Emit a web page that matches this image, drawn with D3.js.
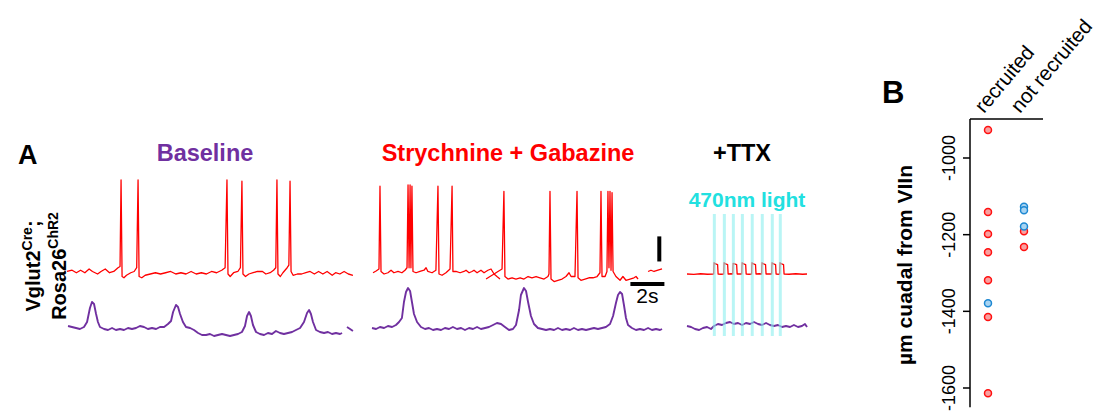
<!DOCTYPE html>
<html>
<head>
<meta charset="utf-8">
<script src="https://cdn.jsdelivr.net/npm/d3@7"></script>
<style>
  body { margin: 0; background: #fff; }
  svg { display: block; font-family: "Liberation Sans", Arial, sans-serif; }
</style>
</head>
<body>
<svg id="chart" width="1099" height="417"></svg>
<script>
// ---------- data (time in s, Vm in mV, GCaMP in a.u.) ----------
const conditions = ["Baseline", "Strychnine + Gabazine", "+TTX"];

const baselineVm = [[0,-58],[0.3,-57],[0.55,-59],[0.8,-57],[1.05,-59],[1.3,-56],[1.5,-58],[1.8,-60],[2.0,-58],[2.25,-56],[2.5,-59],[2.75,-58],[3.0,-55],[3.12,-54],[3.18,15],[3.24,-62],[3.35,-63],[3.5,-61],[3.75,-59],[3.95,-58],[4.1,-55],[4.18,15],[4.24,-62],[4.4,-63],[4.6,-61],[4.9,-60],[5.2,-59],[5.5,-60],[5.8,-59],[6.1,-58],[6.4,-60],[6.7,-59],[7.0,-60],[7.3,-58],[7.6,-60],[7.9,-59],[8.2,-60],[8.5,-58],[8.8,-59],[9.1,-57],[9.3,-55],[9.41,15],[9.47,-60],[9.6,-62],[9.8,-59],[10.05,-58],[10.2,-55],[10.29,14],[10.35,-60],[10.5,-62],[10.7,-60],[10.95,-59],[11.2,-58],[11.5,-58],[11.7,-60],[11.95,-59],[12.15,-57],[12.28,-55],[12.35,15],[12.41,-60],[12.55,-62],[12.7,-59],[12.95,-55],[13.05,-53],[13.12,14],[13.18,-58],[13.3,-61],[13.55,-60],[13.8,-60],[14.05,-59],[14.3,-58],[14.55,-60],[14.8,-58],[15.05,-60],[15.3,-58],[15.6,-61],[15.8,-59],[16.05,-60],[16.3,-58],[16.55,-60],[16.82,-61]];

const baselineCa = [[0.06,4],[0.29,3],[0.53,2],[0.76,1],[1.0,3],[1.18,8],[1.35,22],[1.47,28],[1.59,26],[1.71,16],[1.82,8],[1.94,3],[2.18,1],[2.41,0],[2.65,2],[2.88,0],[3.12,1],[3.35,0],[3.59,2],[3.82,1],[4.06,2],[4.29,4],[4.53,3],[4.76,1],[5.0,2],[5.24,1],[5.47,3],[5.71,3],[5.94,6],[6.12,9],[6.24,18],[6.41,25],[6.53,23],[6.65,16],[6.82,8],[7.0,3],[7.24,2],[7.47,0],[7.71,-3],[7.94,-5],[8.18,-5],[8.41,-4],[8.65,-6],[8.88,-5],[9.12,-4],[9.35,-5],[9.59,-6],[9.82,-5],[10.06,-4],[10.29,-2],[10.47,4],[10.59,14],[10.71,18],[10.82,14],[10.94,5],[11.12,-2],[11.35,-4],[11.59,-5],[11.82,-3],[12.06,-4],[12.29,-1],[12.53,-3],[12.76,-4],[13.0,-3],[13.24,-2],[13.47,0],[13.71,2],[13.94,8],[14.12,17],[14.24,20],[14.35,16],[14.47,8],[14.65,0],[14.88,-2],[15.12,-3],[15.35,-2],[15.59,-4],[15.82,-3],[16.06,-4],[16.18,-3]];
const baselineCaTail = [[16.47,3],[16.65,1],[16.82,-1]];

const strychVmA = [[0.06,-59],[0.24,-57.6],[0.41,-56],[0.47,10],[0.53,-58],[0.71,-60],[0.94,-59],[1.12,-57],[1.29,-59],[1.53,-58],[1.76,-59],[1.94,-57],[2.06,-55],[2.12,11],[2.18,-55],[2.24,11],[2.29,-55],[2.35,10],[2.41,-58],[2.59,-59],[2.82,-58],[3.06,-57],[3.18,-55],[3.29,-58],[3.53,-59],[3.76,-57],[3.88,10],[3.94,-60],[4.12,-61],[4.35,-59],[4.59,-56],[4.71,10],[4.76,-58],[4.94,-58],[5.18,-59],[5.41,-58],[5.53,-57],[5.71,-59],[5.88,-58],[6.0,-57],[6.18,-59],[6.41,-57],[6.59,-59],[6.82,-57],[7.0,-56],[7.18,-60],[7.35,-62],[7.53,-64]];
const strychVmB = [[6.71,-64],[6.94,-62],[7.18,-60],[7.41,-58],[7.65,-56],[7.76,6],[7.82,-62],[8.0,-64],[8.24,-63],[8.47,-64],[8.71,-63],[8.94,-64],[9.18,-62],[9.41,-63],[9.65,-62],[9.88,-63],[10.12,-64],[10.35,-62],[10.41,-60],[10.47,6],[10.53,-64],[10.71,-66],[10.94,-65],[11.18,-64],[11.41,-62],[11.59,-59],[11.71,-62],[11.94,-62],[12.06,6],[12.12,-63],[12.29,-65],[12.53,-64],[12.76,-63],[13.0,-63],[13.24,-62],[13.41,-59],[13.47,6],[13.53,-62],[13.71,-62],[13.82,-58],[13.88,6],[13.94,-55],[14.0,6],[14.06,-57],[14.12,5],[14.18,-58],[14.35,-62],[14.59,-65],[14.76,-62],[14.94,-65],[15.18,-64],[15.41,-63],[15.53,-62],[15.65,-64]];
const strychVmC = [[16.24,-58],[16.41,-57],[16.59,-58],[16.82,-57],[17.06,-56]];

const strychCa = [[0,2],[0.24,1],[0.47,3],[0.71,2],[0.94,4],[1.18,3],[1.41,5],[1.59,8],[1.76,12],[1.88,28],[2.0,38],[2.12,42],[2.24,39],[2.35,28],[2.47,16],[2.65,8],[2.88,3],[3.12,1],[3.35,2],[3.59,0],[3.82,1],[4.06,0],[4.29,2],[4.53,1],[4.76,3],[5.0,1],[5.24,2],[5.47,0],[5.71,2],[5.94,1],[6.18,3],[6.41,1],[6.65,2],[6.88,3],[7.12,5],[7.35,7],[7.59,6],[7.82,3],[8.06,0],[8.29,1],[8.47,5],[8.65,20],[8.76,35],[8.94,42],[9.06,39],[9.18,28],[9.35,14],[9.53,6],[9.76,2],[10.0,1],[10.24,0],[10.47,1],[10.71,0],[10.94,2],[11.18,0],[11.41,1],[11.65,0],[11.88,2],[12.12,0],[12.35,1],[12.59,0],[12.82,1],[13.06,2],[13.29,1],[13.53,2],[13.76,3],[14.0,6],[14.18,14],[14.35,27],[14.47,35],[14.59,38],[14.71,36],[14.82,25],[14.94,12],[15.06,5],[15.29,2],[15.53,0],[15.76,1],[16.0,0],[16.24,2],[16.47,0],[16.71,1],[16.94,0],[17.06,1]];

const ttxVm = [[0,-60],[0.4,-60.3],[0.8,-59.8],[1.2,-60.2],[1.57,-60],
  [1.59,-51],[1.68,-52],[1.8,-52.5],[1.83,-60],[2.0,-60.2],[2.16,-60],
  [2.18,-51],[2.27,-52],[2.39,-52.5],[2.42,-60],[2.6,-59.8],[2.69,-60],
  [2.71,-51.5],[2.8,-52],[2.92,-52.5],[2.95,-60],[3.1,-60],[3.22,-60],
  [3.24,-51],[3.33,-52],[3.45,-52.5],[3.48,-60],[3.65,-60.2],[3.8,-60],
  [3.82,-51],[3.91,-52],[4.03,-52.5],[4.06,-60],[4.25,-59.8],[4.39,-60],
  [4.41,-51],[4.5,-52],[4.62,-52.5],[4.65,-60],[4.85,-60],[4.98,-60],
  [5.0,-51],[5.09,-52],[5.21,-52.5],[5.24,-60],[5.38,-60.2],[5.45,-60],
  [5.47,-51],[5.56,-52],[5.68,-52.5],[5.71,-60],[6.0,-60.2],[6.4,-59.8],[6.8,-60.2],[7.06,-60]];
const ttxCa = [[0,4],[0.24,3],[0.47,1],[0.71,0],[0.94,2],[1.18,3],[1.41,1],[1.59,4],[1.82,6],[2.06,5],[2.29,7],[2.53,8],[2.76,6],[3.0,7],[3.24,5],[3.47,7],[3.71,6],[3.94,8],[4.18,6],[4.41,5],[4.65,7],[4.88,5],[5.12,4],[5.35,5],[5.59,3],[5.82,4],[6.06,3],[6.29,5],[6.53,3],[6.76,4],[6.94,6],[7.06,3]];
const lightOnsets = [1.59, 2.18, 2.71, 3.24, 3.82, 4.41, 5.0, 5.47];

const scaleBar = { seconds: 2, mV: 20 };

// panel B: depth (µm caudal from VIIn) of each cell
const groups = ["recruited", "not recruited"];
const recruitedRed = [-927, -1141, -1198, -1246, -1319, -1415, -1614];
const recruitedBlue = [-1379];
const notRecruitedRed = [-1191, -1232];
const notRecruitedBlue = [-1127, -1136, -1179];
const depthTicks = [-1000, -1200, -1400, -1600];

// ---------- drawing ----------
const svg = d3.select("#chart");
const red = "#ff0000", purple = "#7030a0", cyan = "#22e0e0";

svg.append("rect").attr("width", 1099).attr("height", 417).attr("fill", "#fff");

// shared y scales for the traces
const yVm = d3.scaleLinear().domain([-60, 15]).range([274, 180]);
const yCa = d3.scaleLinear().domain([0, 40]).range([330, 290]);

// each condition gets its own time axis, 17 px per second
const xBase = d3.scaleLinear().domain([0, 17]).range([67, 356]);
const xStry = d3.scaleLinear().domain([0, 17]).range([372, 661]);
const xTtx = d3.scaleLinear().domain([0, 7]).range([687, 806]);

function trace(data, x, y, color, w) {
  const line = d3.line().x(d => x(d[0])).y(d => y(d[1]));
  svg.append("path")
    .datum(data)
    .attr("d", line)
    .attr("fill", "none")
    .attr("stroke", color)
    .attr("stroke-width", w)
    .attr("stroke-linejoin", "round");
}

trace(baselineVm, xBase, yVm, red, 1.3);
trace(baselineCa, xBase, yCa, purple, 1.9);
trace(baselineCaTail, xBase, yCa, purple, 1.9);

trace(strychVmA, xStry, yVm, red, 1.3);
trace(strychVmB, xStry, yVm, red, 1.3);
trace(strychVmC, xStry, yVm, red, 1.3);
trace(strychCa, xStry, yCa, purple, 1.9);

trace(ttxVm, xTtx, yVm, red, 1.3);
trace(ttxCa, xTtx, yCa, purple, 1.9);

// 470nm light pulses, drawn over the traces
svg.append("g").selectAll("rect")
  .data(lightOnsets)
  .join("rect")
  .attr("x", d => xTtx(d) - 1.2)
  .attr("y", 214)
  .attr("width", 3)
  .attr("height", 122)
  .attr("fill", "#8aeeee")
  .attr("opacity", 0.6);

// scale bars (2 s, 20 mV)
const barT = 16.9, barTop = -30;
svg.append("line")
  .attr("x1", xStry(barT)).attr("x2", xStry(barT))
  .attr("y1", yVm(barTop)).attr("y2", yVm(barTop - scaleBar.mV))
  .attr("stroke", "#000").attr("stroke-width", 4);
svg.append("line")
  .attr("x1", xStry(17.2 - scaleBar.seconds)).attr("x2", xStry(17.2))
  .attr("y1", yVm(-68)).attr("y2", yVm(-68))
  .attr("stroke", "#000").attr("stroke-width", 4);
svg.append("text")
  .attr("x", xStry(17.2 - scaleBar.seconds / 2)).attr("y", 303)
  .attr("text-anchor", "middle").attr("font-size", 21)
  .text(scaleBar.seconds + "s");

// condition titles
const titleX = [205, 508, 742];
const titleColor = [purple, red, "#000"];
svg.append("g").selectAll("text")
  .data(conditions)
  .join("text")
  .attr("x", (d, i) => titleX[i])
  .attr("y", 161)
  .attr("text-anchor", "middle")
  .attr("font-size", 23.5)
  .attr("font-weight", "bold")
  .attr("fill", (d, i) => titleColor[i])
  .text(d => d);

svg.append("text")
  .attr("x", 747).attr("y", 207)
  .attr("text-anchor", "middle")
  .attr("font-size", 21).attr("font-weight", "bold")
  .attr("fill", cyan)
  .text("470nm light");

// panel letters
svg.append("text").attr("x", 18).attr("y", 164)
  .attr("font-size", 27).attr("font-weight", "bold").text("A");
svg.append("text").attr("x", 882).attr("y", 103)
  .attr("font-size", 31).attr("font-weight", "bold").text("B");

// genotype label
const geno = svg.append("g").attr("font-weight", "bold").attr("font-size", 20);
const l1 = geno.append("text").attr("transform", "translate(40,266) rotate(-90)").attr("text-anchor", "middle");
l1.append("tspan").text("Vglut2");
l1.append("tspan").attr("dy", -8).attr("font-size", 14).text("Cre");
l1.append("tspan").attr("dy", 8).text(";");
const l2 = geno.append("text").attr("transform", "translate(66,266) rotate(-90)").attr("text-anchor", "middle");
l2.append("tspan").text("Rosa26");
l2.append("tspan").attr("dy", -8).attr("font-size", 14).text("ChR2");

// ---------- panel B ----------
const yDepth = d3.scaleLinear().domain([-1000, -1600]).range([158, 388]);
const xGroup = d3.scalePoint().domain(groups).range([988, 1024]);
const axisX = 970;
const topY = yDepth(-898);

const gB = svg.append("g");
gB.append("line")
  .attr("x1", axisX).attr("x2", axisX)
  .attr("y1", topY).attr("y2", yDepth(-1650))
  .attr("stroke", "#000").attr("stroke-width", 1.5);
gB.append("line")
  .attr("x1", axisX).attr("x2", xGroup("not recruited") + 19)
  .attr("y1", topY).attr("y2", topY)
  .attr("stroke", "#000").attr("stroke-width", 1.5);

gB.selectAll("line.tick")
  .data(depthTicks)
  .join("line")
  .attr("class", "tick")
  .attr("x1", axisX - 7).attr("x2", axisX)
  .attr("y1", d => yDepth(d)).attr("y2", d => yDepth(d))
  .attr("stroke", "#000").attr("stroke-width", 1.5);

gB.selectAll("text.ticklab")
  .data(depthTicks)
  .join("text")
  .attr("class", "ticklab")
  .attr("transform", d => `translate(955,${yDepth(d)}) rotate(-90)`)
  .attr("text-anchor", "middle")
  .attr("font-size", 18)
  .text(d => d);

gB.append("text")
  .attr("transform", "translate(912,265) rotate(-90)")
  .attr("text-anchor", "middle")
  .attr("font-size", 21).attr("font-weight", "bold")
  .text("µm cuadal from VIIn");

gB.selectAll("text.grp")
  .data(groups)
  .join("text")
  .attr("class", "grp")
  .attr("transform", d => `translate(${xGroup(d) - 4},114) rotate(-50)`)
  .attr("font-size", 20.5)
  .text(d => d);

function dots(values, group, fill, stroke) {
  gB.append("g").selectAll("circle")
    .data(values)
    .join("circle")
    .attr("cx", xGroup(group))
    .attr("cy", d => yDepth(d))
    .attr("r", 3.5)
    .attr("fill", fill)
    .attr("stroke", stroke)
    .attr("stroke-width", 1.5);
}
dots(recruitedRed, "recruited", "#f8a0a0", "#ff1010");
dots(notRecruitedRed, "not recruited", "#f8a0a0", "#ff1010");
dots(recruitedBlue, "recruited", "#a8d4f2", "#1e88d2");
dots(notRecruitedBlue, "not recruited", "#a8d4f2", "#1e88d2");
</script>
</body>
</html>
